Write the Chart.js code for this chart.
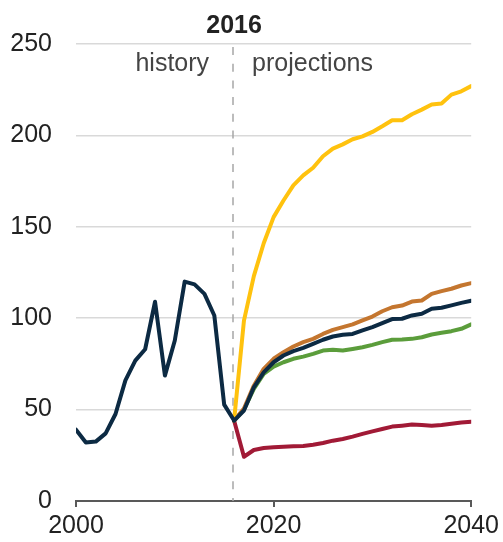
<!DOCTYPE html>
<html>
<head>
<meta charset="utf-8">
<script src="https://cdn.jsdelivr.net/npm/chart.js@4/dist/chart.umd.min.js"></script>
<style>
  html, body { margin: 0; padding: 0; background: #fff; }
  #wrap { width: 503px; height: 542px; position: relative; }
</style>
</head>
<body>
<div id="wrap"><canvas id="myChart"></canvas></div>
<script>
const histYears = [2000, 2001, 2002, 2003, 2004, 2005, 2006, 2007, 2008, 2009, 2010, 2011, 2012, 2013, 2014, 2015, 2016];
const history = [39, 32, 32.5, 37, 47.6, 66, 76.8, 83, 109, 68.6, 87.8, 120, 118.5, 113.3, 101.5, 52.7, 44];

const projYears = [2016, 2017, 2018, 2019, 2020, 2021, 2022, 2023, 2024, 2025, 2026, 2027, 2028,
  2029, 2030, 2031, 2032, 2033, 2034, 2035, 2036, 2037, 2038, 2039, 2040];
const yellow = [44, 98.7, 123, 141, 155.3, 164.4, 172.7, 178.1, 182.3, 188.6, 192.8, 195.1, 197.9,
  199.5, 201.9, 205, 208.3, 208.3, 211.6, 214.1, 216.9, 217.4, 222.3, 224.1, 227];
const orange = [44, 50.6, 63.1, 72.3, 77.8, 81.4, 84.5, 86.9, 88.7, 91.4, 93.6, 95.1, 96.6,
  98.8, 100.9, 103.8, 106, 106.9, 109.1, 109.7, 113.3, 114.8, 116.1, 117.9, 119.2];
const navy = [44, 49.5, 62.2, 70.4, 75.9, 79.6, 82, 83.8, 86, 88.2, 90, 90.9, 91.4,
  93.3, 95.1, 97.3, 99.5, 99.7, 101.5, 102.4, 105.2, 105.7, 107, 108.4, 109.5];
const green = [44, 50, 61.3, 69.5, 73.5, 75.9, 77.8, 79, 80.5, 82.3, 82.7, 82.3, 83.2,
  84.1, 85.4, 86.9, 88.2, 88.3, 88.7, 89.6, 91.1, 92, 92.9, 94.2, 96.6];
const red = [44, 24.2, 27.9, 29, 29.4, 29.7, 29.9, 30.1, 30.8, 31.7, 33, 33.9, 35.2,
  36.7, 38.1, 39.4, 40.7, 41.2, 41.8, 41.6, 41.2, 41.6, 42.2, 42.9, 43.4];

const xTicks = [2000, 2020, 2040];
const yTicks = [0, 50, 100, 150, 200, 250];
const splitYear = 2016;

function pts(xs, ys) {
  return xs.map((x, i) => ({ x: x, y: ys[i] }));
}

function line(data, color) {
  return {
    data: data,
    borderColor: color,
    backgroundColor: color,
    borderWidth: 4,
    pointRadius: 0,
    tension: 0,
    borderJoinStyle: 'round',
    borderCapStyle: 'round',
    fill: false
  };
}

const FONT = "'Liberation Sans', Arial, sans-serif";

// dashed divider + history / projections labels
const annotations = {
  id: 'annotations',
  beforeDatasetsDraw(chart) {
    const c = chart.ctx;
    const x = Math.round(chart.scales.x.getPixelForValue(splitYear)) - 1;
    c.save();
    c.strokeStyle = '#a6a6a6';
    c.lineWidth = 1.5;
    c.setLineDash([8, 8.7]);
    c.beginPath();
    c.moveTo(x, 47);
    c.lineTo(x, chart.chartArea.bottom);
    c.stroke();
    c.restore();
  },
  afterDraw(chart) {
    const c = chart.ctx;
    const x = chart.scales.x.getPixelForValue(splitYear);
    c.save();
    c.fillStyle = '#222';
    c.font = 'bold 25px ' + FONT;
    c.textAlign = 'center';
    c.textBaseline = 'alphabetic';
    c.fillText(String(splitYear), x, 33);
    c.fillStyle = '#444';
    c.font = '25px ' + FONT;
    c.textAlign = 'right';
    c.fillText('history', x - 25, 71);
    c.textAlign = 'left';
    c.fillText('projections', x + 18, 71);
    c.restore();
  }
};

const ctx = document.getElementById('myChart').getContext('2d');
const myChart = new Chart(ctx, {
  type: 'line',
  data: {
    datasets: [
      line(pts(histYears, history), '#0c2a43'),
      line(pts(projYears, navy), '#0c2a43'),
      line(pts(projYears, yellow), '#ffc20e'),
      line(pts(projYears, orange), '#c4762f'),
      line(pts(projYears, green), '#5b9d3b'),
      line(pts(projYears, red), '#a11a36')
    ]
  },
  options: {
    responsive: true,
    maintainAspectRatio: false,
    animation: false,
    layout: { padding: { top: 44, right: 30, bottom: 0, left: 0 } },
    plugins: {
      legend: { display: false },
      tooltip: { enabled: false }
    },
    scales: {
      x: {
        type: 'linear',
        min: 2000,
        max: 2040,
        afterBuildTicks: (scale) => { scale.ticks = xTicks.map(v => ({ value: v })); },
        afterFit: (scale) => { scale.height = 41; },
        ticks: {
          color: '#222',
          font: { family: FONT, size: 25 },
          padding: 4,
          maxRotation: 0,
          callback: (v) => String(v)
        },
        grid: { drawOnChartArea: false, tickLength: 6, color: '#595959', lineWidth: 2 },
        border: { display: true, color: '#595959', width: 2 }
      },
      y: {
        min: 0,
        max: 250,
        afterBuildTicks: (scale) => { scale.ticks = yTicks.map(v => ({ value: v })); },
        afterFit: (scale) => { scale.width = 76; },
        ticks: {
          color: '#222',
          font: { family: FONT, size: 25 },
          padding: 24
        },
        grid: { color: '#d9d9d9', lineWidth: 1.5, drawTicks: false },
        border: { display: false }
      }
    }
  },
  plugins: [annotations]
});
</script>
</body>
</html>
